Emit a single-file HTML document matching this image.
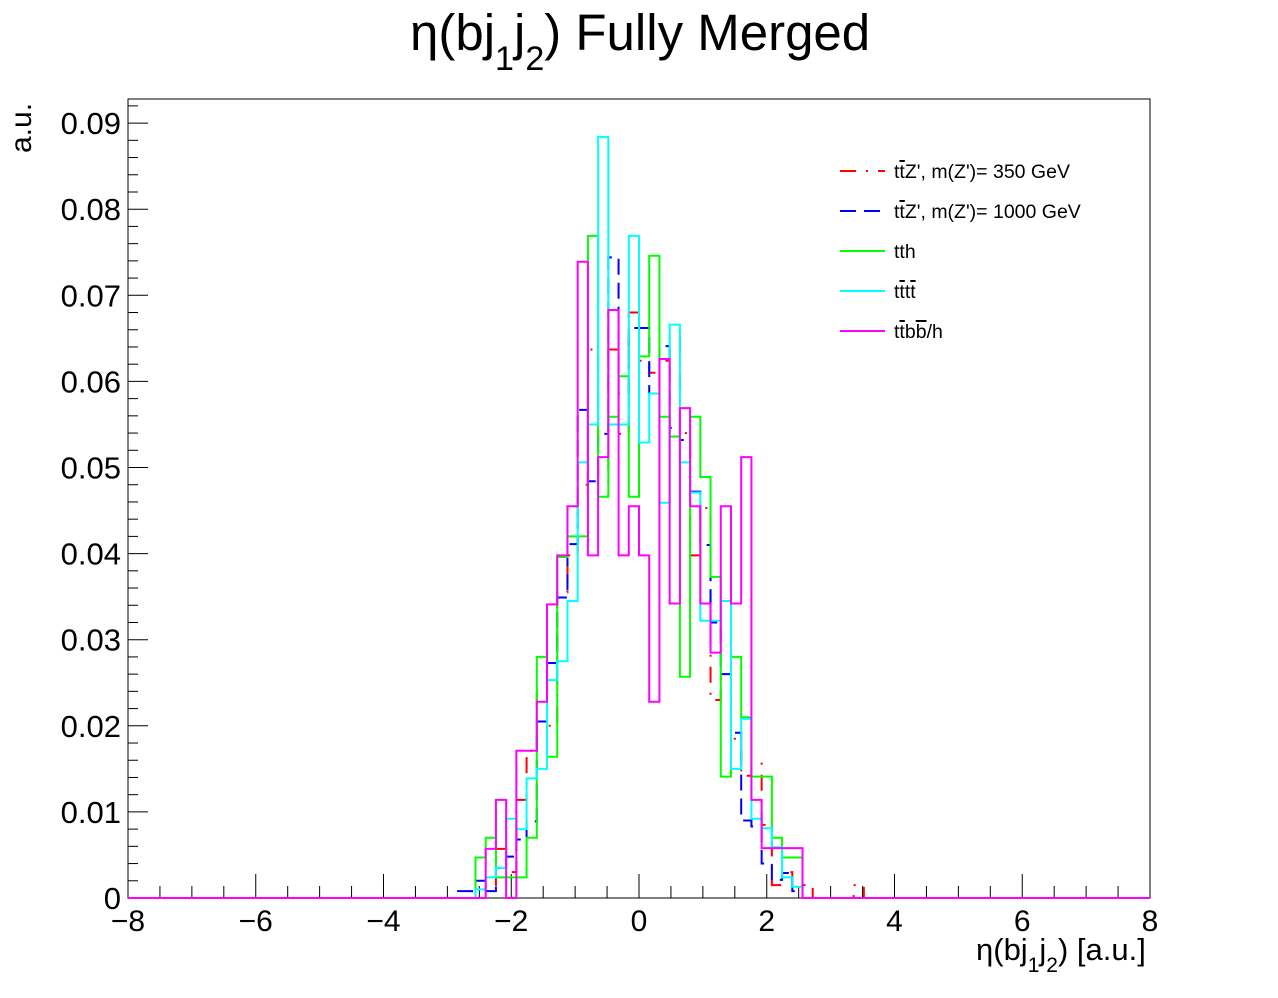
<!DOCTYPE html>
<html><head><meta charset="utf-8"><style>
body{margin:0;background:#fff;}
svg{display:block;font-family:"Liberation Sans",sans-serif;}
</style></head><body>
<svg id="chart" width="1278" height="998" viewBox="0 0 1278 998">
<text x="410" y="50" font-size="51">η(bj<tspan font-size="34" dy="20">1</tspan><tspan dy="-20">j</tspan><tspan font-size="34" dy="20">2</tspan><tspan dy="-20">) Fully Merged</tspan></text>
<text transform="translate(31,153) rotate(-90)" font-size="30">a.u.</text>
<text x="976" y="960" font-size="31">η(bj<tspan font-size="21" dy="12">1</tspan><tspan dy="-12">j</tspan><tspan font-size="21" dy="12">2</tspan><tspan dy="-12">) [a.u.]</tspan></text>
<rect x="128" y="99" width="1022" height="799" fill="none" stroke="#000" stroke-width="1"/>
<g id="axes"></g>
<g id="series"></g>
<g font-size="19.5">
<line x1="840" y1="171" x2="885" y2="171" stroke="#f00" stroke-width="2" stroke-dasharray="16 10 2 10"/>
<text x="894" y="178">t<tspan style="text-decoration:overline">t</tspan>Z', m(Z')= 350 GeV</text>
<line x1="840" y1="211" x2="885" y2="211" stroke="#00f" stroke-width="2" stroke-dasharray="16 8"/>
<text x="894" y="218">t<tspan style="text-decoration:overline">t</tspan>Z', m(Z')= 1000 GeV</text>
<line x1="840" y1="251" x2="885" y2="251" stroke="#0f0" stroke-width="2"/>
<text x="894" y="258">tth</text>
<line x1="840" y1="291" x2="885" y2="291" stroke="#0ff" stroke-width="2"/>
<text x="894" y="298">t<tspan style="text-decoration:overline">t</tspan>t<tspan style="text-decoration:overline">t</tspan></text>
<line x1="840" y1="331" x2="885" y2="331" stroke="#f0f" stroke-width="2"/>
<text x="894" y="338">t<tspan style="text-decoration:overline">t</tspan>b<tspan style="text-decoration:overline">b</tspan>/h</text>
</g>
</svg>
<script>
// bins: width 0.16, first bin low edge at k=-18 → x=-2.88
const binWidth = 0.16;
const firstLow = -2.88;
const redVals = [0,0,0.001,0.0015,0.0057,0.003,0.0114,0.0171,0.0241,0.02,0.0355,0.0398,0.048,0.0637,0.0482,0.0637,0.0539,0.068,0.0624,0.061,0.0624,0.0652,0.054,0.0398,0.0453,0.023,0.0256,0.0185,0.0142,0.0156,0.0085,0.0015,0.003,0.0015,0.0015,0,0,0,0,0.0015];
const blueVals = [0.0008,0.0008,0.002,0.0008,0.0035,0.0048,0.0068,0.0089,0.0205,0.0273,0.0349,0.0411,0.0567,0.0484,0.0539,0.0744,0.0586,0.0662,0.0662,0.0586,0.0641,0.0546,0.0532,0.0472,0.041,0.032,0.026,0.0192,0.009,0.0083,0.004,0.0021,0.0029,0.0008,0,0,0,0,0,0];
const greenVals = [0,0,0.0047,0.007,0.0024,0.0024,0.0024,0.007,0.028,0.0164,0.0396,0.042,0.042,0.0769,0.0466,0.0559,0.0606,0.0466,0.0629,0.0746,0.0559,0.0536,0.0257,0.0559,0.0489,0.0373,0.0141,0.028,0.021,0.0141,0.0141,0.007,0.0047,0.0047,0,0,0,0,0,0];
const cyanVals = [0,0,0.001,0.0024,0.0035,0.0092,0.008,0.0139,0.015,0.0253,0.0275,0.0345,0.0506,0.055,0.0884,0.055,0.055,0.0769,0.0529,0.0586,0.0459,0.0666,0.0506,0.0471,0.0322,0.0322,0.0345,0.015,0.0208,0.0092,0.0081,0.0059,0.0024,0.0013,0,0,0,0,0,0];
const magentaVals = [0,0,0,0.0057,0.0114,0,0.0171,0.0171,0.0228,0.0341,0.0398,0.0455,0.0739,0.0398,0.0512,0.0683,0.0398,0.0455,0.0398,0.0228,0.0626,0.0342,0.0569,0.0455,0.0342,0.0285,0.0455,0.0342,0.0512,0.0114,0.0058,0.0058,0.0058,0.0058,0,0,0,0,0,0];
const xTickLabels = ["−8","−6","−4","−2","0","2","4","6","8"];
const xTickValues = [-8,-6,-4,-2,0,2,4,6,8];
const yTickLabels = ["0","0.01","0.02","0.03","0.04","0.05","0.06","0.07","0.08","0.09"];
const yTickValues = [0,0.01,0.02,0.03,0.04,0.05,0.06,0.07,0.08,0.09];

const X0=128,X1=1150,Y0=898,Y1=99;
const xs = v => X0 + (v+8)/16*(X1-X0);
const ys = v => Y0 - v/0.0928*(Y0-Y1);
const NS="http://www.w3.org/2000/svg";
const axes=document.getElementById('axes');
function mk(tag,attrs,parent){const e=document.createElementNS(NS,tag);for(const k in attrs)e.setAttribute(k,attrs[k]);parent.appendChild(e);return e;}
for(let v=-8;v<=8.001;v+=0.5){
  const major=Math.abs(v/2-Math.round(v/2))<1e-6;
  const l=mk('line',{x1:xs(v),x2:xs(v),y1:Y0,y2:Y0-(major?24:12),stroke:'#000','stroke-width':1},axes);
  
  
}
xTickValues.forEach((v,i)=>{
  const t=mk('text',{x:xs(v),y:931,'font-size':30,'text-anchor':'middle'},axes);
  t.textContent=xTickLabels[i];
  
  
});
for(let i=0;i<=46;i++){
  const v=i*0.002;
  const major=i%5===0;
  const l=mk('line',{x1:X0,x2:X0+(major?20:10),y1:ys(v),y2:ys(v),stroke:'#000','stroke-width':1},axes);
  
  
}
yTickValues.forEach((v,i)=>{
  const t=mk('text',{x:121,y:ys(v)+11,'font-size':31,'text-anchor':'end'},axes);
  t.textContent=yTickLabels[i];
  
  
});
const series=document.getElementById('series');
function hist(vals,color,dash,name){
  let d='M'+X0+','+Y0+' L'+xs(firstLow)+','+Y0;
  vals.forEach((v,i)=>{
    const lo=firstLow+i*binWidth, hi=lo+binWidth;
    d+=' L'+xs(lo)+','+ys(v)+' L'+xs(hi)+','+ys(v);
  });
  d+=' L'+xs(firstLow+vals.length*binWidth)+','+Y0+' L'+X1+','+Y0;
  const p=mk('path',{d:d,fill:'none',stroke:color,'stroke-width':2},series);
  if(dash)p.setAttribute('stroke-dasharray',dash);
  
  
}
hist(redVals,'#f00','16 10 2 10','series-ttz-350');
hist(blueVals,'#00f','16 8','series-ttz-1000');
hist(greenVals,'#0f0',null,'series-tth');
hist(cyanVals,'#0ff',null,'series-tttt');
hist(magentaVals,'#f0f',null,'series-ttbbh');
</script>
</body></html>
